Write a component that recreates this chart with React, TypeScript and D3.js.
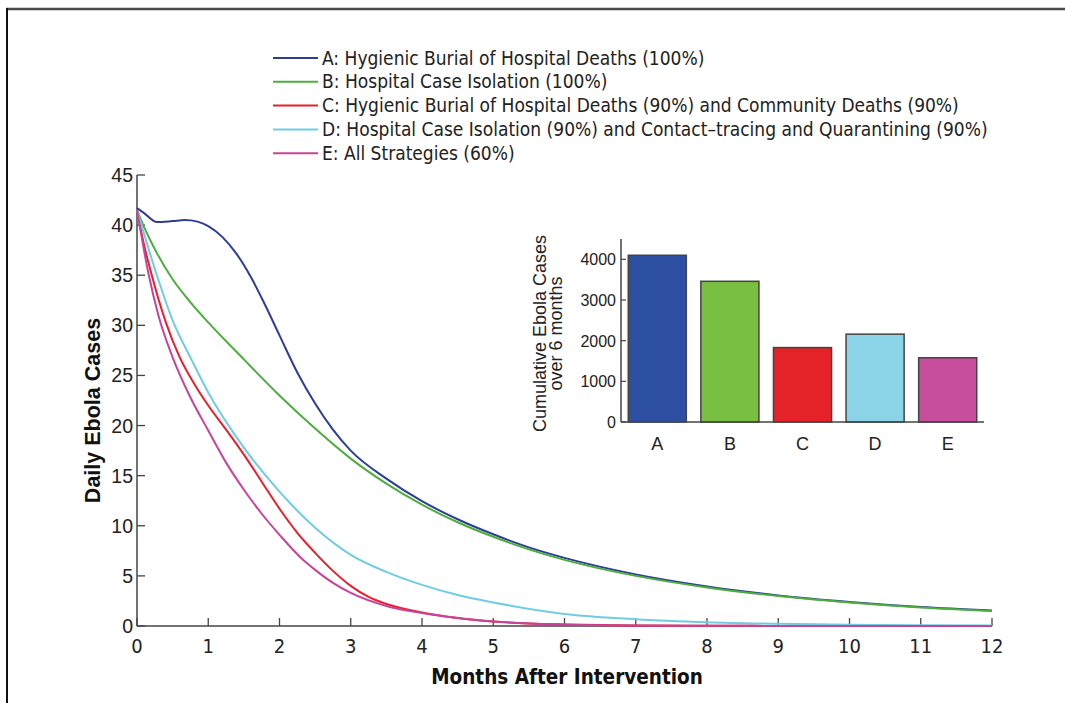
import React from "react";
import * as d3 from "d3";

const seriesNames = [
  "A: Hygienic Burial of Hospital Deaths (100%)",
  "B: Hospital Case Isolation (100%)",
  "C: Hygienic Burial of Hospital Deaths (90%) and Community Deaths (90%)",
  "D: Hospital Case Isolation (90%) and Contact\u2013tracing and Quarantining (90%)",
  "E: All Strategies (60%)",
];
const seriesColors = ["#2e3d96", "#4cae3e", "#e8202a", "#6fcde2", "#c8449a"];

const monthsA = [0, 0.1, 0.28, 0.5, 0.67, 0.85, 1, 1.2, 1.4, 1.6, 1.8, 2, 2.25, 2.5, 2.75, 3, 3.5, 4, 4.5, 5, 5.5, 6, 7, 8, 9, 10, 11, 12];
const casesA = [41.7, 41.2, 40.3, 40.4, 40.5, 40.35, 39.9, 38.8, 37.1, 34.8, 32.0, 29.0, 25.3, 22.2, 19.6, 17.5, 14.7, 12.45, 10.65, 9.15, 7.85, 6.8, 5.15, 3.95, 3.05, 2.4, 1.9, 1.55];

const monthsB = [0, 0.1, 0.25, 0.5, 0.75, 1, 1.5, 2, 2.5, 3, 3.5, 4, 4.5, 5, 5.5, 6, 7, 8, 9, 10, 11, 12];
const casesB = [41.5, 39.8, 37.6, 34.6, 32.3, 30.3, 26.6, 23.0, 19.7, 16.7, 14.2, 12.1, 10.35, 8.9, 7.65, 6.6, 5.0, 3.85, 3.0, 2.35, 1.85, 1.5];

const monthsC = [0, 0.1, 0.2, 0.4, 0.6, 0.8, 1, 1.25, 1.5, 1.75, 2, 2.25, 2.5, 2.75, 3, 3.25, 3.5, 4, 4.5, 5, 5.5, 6, 7, 8, 9, 10, 11, 12];
const casesC = [41.5, 38.0, 35.2, 30.4, 26.8, 24.2, 22.0, 19.6, 17.1, 14.4, 11.7, 9.3, 7.3, 5.5, 4.0, 2.9, 2.2, 1.35, 0.8, 0.45, 0.25, 0.15, 0.05, 0.02, 0.01, 0.0, 0.0, 0.0];

const monthsD = [0, 0.27, 0.5, 0.77, 1, 1.5, 2, 2.5, 3, 3.5, 4, 4.5, 5, 6, 7, 8, 9, 10, 11, 12];
const casesD = [41.5, 35.2, 30.5, 26.5, 23.3, 17.8, 13.4, 9.8, 7.1, 5.4, 4.1, 3.1, 2.35, 1.2, 0.68, 0.38, 0.22, 0.12, 0.07, 0.04];

const monthsE = [0, 0.16, 0.3, 0.5, 0.75, 1, 1.25, 1.5, 1.75, 2, 2.33, 2.5, 2.75, 3, 3.5, 4, 4.5, 5, 6, 7, 8, 9, 10, 11, 12];
const casesE = [41.5, 35.2, 31.0, 26.8, 22.8, 19.5, 16.3, 13.6, 11.2, 9.1, 6.6, 5.6, 4.3, 3.3, 2.0, 1.3, 0.8, 0.45, 0.15, 0.05, 0.02, 0.01, 0.0, 0.0, 0.0];

const allMonths = [monthsA, monthsB, monthsC, monthsD, monthsE];
const allCases = [casesA, casesB, casesC, casesD, casesE];

const xTicks = [0, 1, 2, 3, 4, 5, 6, 7, 8, 9, 10, 11, 12];
const yTicks = [0, 5, 10, 15, 20, 25, 30, 35, 40, 45];

const barCategories = ["A", "B", "C", "D", "E"];
const barValues = [4100, 3460, 1830, 2160, 1580];
const barColors = ["#2c4fa1", "#79bf41", "#e52228", "#8bd3e6", "#c74e9d"];
const barTicks = [0, 1000, 2000, 3000, 4000];

const narrow = "'Liberation Sans Narrow', 'Arial Narrow', 'DejaVu Sans Condensed', sans-serif";
const sans = "'Liberation Sans', Arial, Helvetica, sans-serif";

export default function App() {
  const x = d3.scaleLinear().domain([0, 12]).range([137, 992]);
  const y = d3.scaleLinear().domain([0, 45]).range([626, 175]);

  const line = d3
    .line<[number, number]>()
    .x((d) => x(d[0]))
    .y((d) => y(d[1]))
    .curve(d3.curveMonotoneX);

  // inset
  const bx = d3.scaleLinear().domain([0.5, 5.5]).range([621, 984]);
  const by = d3.scaleLinear().domain([0, 4500]).range([422, 239]);
  const barW = bx(1.4) - bx(0.6);

  const axisColor = "#444";

  return (
    <svg
      width={1065}
      height={703}
      style={{ position: "absolute", left: 0, top: 0, background: "#fff" }}
    >
      {/* frame */}
      <line x1={6} y1={9} x2={1065} y2={9} stroke="#4a4a4a" strokeWidth={2.5} />
      <line x1={7} y1={8} x2={7} y2={703} stroke="#111" strokeWidth={2} />

      {/* main axes */}
      <line x1={x(0)} y1={y(0)} x2={x(12)} y2={y(0)} stroke={axisColor} strokeWidth={1.5} />
      <line x1={x(0)} y1={y(0)} x2={x(0)} y2={y(45)} stroke={axisColor} strokeWidth={1.5} />
      {xTicks.map((t) => (
        <g key={"xt" + t}>
          <line x1={x(t)} x2={x(t)} y1={y(0)} y2={y(0) - 8} stroke={axisColor} strokeWidth={1.3} />
          <text
            x={x(t)}
            y={653}
            textAnchor="middle"
            fontFamily={narrow}
            fontSize={20}
            fill="#222"
          >
            {t}
          </text>
        </g>
      ))}
      {yTicks.map((t) => (
        <g key={"yt" + t}>
          <line x1={x(0)} x2={x(0) + 8} y1={y(t)} y2={y(t)} stroke={axisColor} strokeWidth={1.3} />
          <text
            x={x(0) - 4}
            y={y(t) + 7}
            textAnchor="end"
            fontFamily={sans}
            fontSize={19.5}
            fill="#222"
          >
            {t}
          </text>
        </g>
      ))}
      <text
        x={567}
        y={684}
        textAnchor="middle"
        fontFamily={narrow}
        fontWeight="bold"
        fontSize={20.5}
        fill="#111"
      >
        Months After Intervention
      </text>
      <text
        transform={`translate(100,${y(21.5)}) rotate(-90)`}
        textAnchor="middle"
        fontFamily={sans}
        fontWeight="bold"
        fontSize={21.5}
        fill="#111"
      >
        Daily Ebola Cases
      </text>

      {/* lines */}
      {allMonths.map((ms, i) => {
        const pts = ms.map((m, j) => [m, allCases[i][j]] as [number, number]);
        return (
          <path
            key={"l" + i}
            d={line(pts) || ""}
            fill="none"
            stroke={seriesColors[i]}
            strokeWidth={2}
          />
        );
      })}

      {/* legend */}
      {seriesNames.map((name, i) => (
        <g key={"lg" + i} transform={`translate(0,${58 + i * 23.8})`}>
          <line x1={273} x2={318} y1={0} y2={0} stroke={seriesColors[i]} strokeWidth={2} />
          <text x={322} y={6.5} fontFamily={narrow} fontSize={19} fill="#222">
            {name}
          </text>
        </g>
      ))}

      {/* inset bar chart */}
      {barCategories.map((c, i) => (
        <g key={"b" + c}>
          <rect
            x={bx(i + 1) - barW / 2}
            y={by(barValues[i])}
            width={barW}
            height={by(0) - by(barValues[i])}
            fill={barColors[i]}
            stroke="#444"
            strokeWidth={1.5}
          />
          <text
            x={bx(i + 1)}
            y={450}
            textAnchor="middle"
            fontFamily={sans}
            fontSize={18}
            fill="#222"
          >
            {c}
          </text>
        </g>
      ))}
      <line x1={bx(0.5)} x2={bx(5.5)} y1={by(0)} y2={by(0)} stroke={axisColor} strokeWidth={1.5} />
      <line x1={bx(0.5)} x2={bx(0.5)} y1={by(0)} y2={by(4500)} stroke={axisColor} strokeWidth={1.5} />
      {barTicks.map((t) => (
        <g key={"bt" + t}>
          <line x1={bx(0.5)} x2={bx(0.5) + 5} y1={by(t)} y2={by(t)} stroke={axisColor} strokeWidth={1.2} />
          <text
            x={bx(0.5) - 5}
            y={by(t) + 6}
            textAnchor="end"
            fontFamily={sans}
            fontSize={16}
            fill="#222"
          >
            {t}
          </text>
        </g>
      ))}
      <text
        transform={`translate(546,${by(2250) + 3}) rotate(-90)`}
        textAnchor="middle"
        fontFamily={sans}
        fontSize={18}
        fill="#222"
      >
        <tspan x={0} dy={0}>Cumulative Ebola Cases</tspan>
        <tspan x={0} dy={16}>over 6 months</tspan>
      </text>
    </svg>
  );
}
